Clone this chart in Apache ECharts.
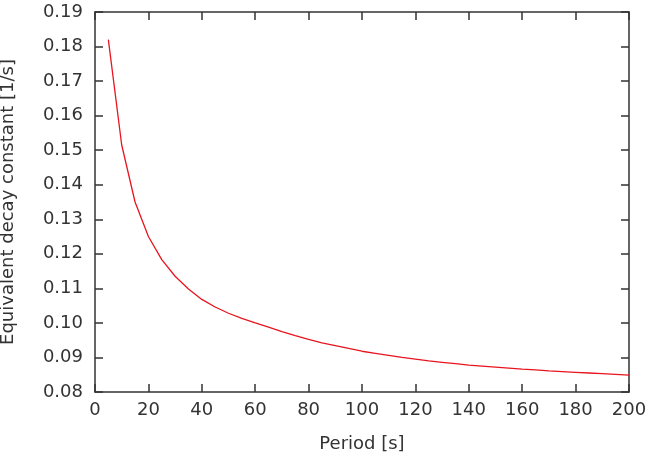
<!DOCTYPE html>
<html>
<head>
<meta charset="utf-8">
<script src="https://cdn.jsdelivr.net/npm/echarts@6/dist/echarts.min.js"></script>
<style>
  html, body { margin: 0; padding: 0; background: #fff; }
  #chart { width: 645px; height: 475px; }
</style>
</head>
<body>
<div id="chart"></div>
<script>
// period [s]
const periods = [5, 10, 15, 20, 25, 30, 35, 40, 45, 50, 55, 60, 65, 70, 75, 80, 85, 90, 95, 100,
    105, 110, 115, 120, 125, 130, 135, 140, 145, 150, 155, 160, 165, 170, 175, 180, 185, 190, 195, 200]
// equivalent decay constant [1/s]
const decay = [0.1820, 0.1515, 0.1350, 0.1250, 0.1183, 0.1135, 0.1098, 0.1068, 0.1046, 0.1028,
    0.1013, 0.1000, 0.0988, 0.0975, 0.0963, 0.0952, 0.0942, 0.0934, 0.0926, 0.0918,
    0.0912, 0.0906, 0.0900, 0.0895, 0.0890, 0.0886, 0.0882, 0.0878, 0.0875, 0.0872,
    0.0869, 0.0866, 0.0864, 0.0861, 0.0859, 0.0857, 0.0855, 0.0853, 0.0851, 0.0849]

const font = 'DejaVu Sans'
const axisColor = '#333'
const fontSize = 18

let chart = echarts.init(document.getElementById('chart'))

const baseAxisLine = { show: true, onZero: false, lineStyle: { color: axisColor, width: 1.5 } }
const baseTick = { show: true, inside: true, length: 8, lineStyle: { color: axisColor, width: 1.5 } }

chart.setOption({
    animation: false,
    grid: {
        left: 95,
        right: 16,
        top: 12,
        bottom: 83,
        outerBoundsMode: 'none'
    },
    xAxis: [
        {
            type: 'value',
            min: 0,
            max: 200,
            interval: 20,
            name: 'Period [s]',
            nameLocation: 'middle',
            nameGap: 43,
            nameTextStyle: { fontFamily: font, fontSize: fontSize, color: axisColor },
            axisLine: baseAxisLine,
            axisTick: baseTick,
            axisLabel: { fontFamily: font, fontSize: fontSize, color: axisColor, margin: 9 },
            splitLine: { show: false }
        },
        {
            type: 'value',
            position: 'top',
            min: 0,
            max: 200,
            interval: 20,
            axisLine: baseAxisLine,
            axisTick: baseTick,
            axisLabel: { show: false },
            splitLine: { show: false }
        }
    ],
    yAxis: [
        {
            type: 'value',
            min: 0.08,
            max: 0.19,
            interval: 0.01,
            name: 'Equivalent decay constant [1/s]',
            nameLocation: 'middle',
            nameGap: 78,
            nameTextStyle: { fontFamily: font, fontSize: fontSize, color: axisColor },
            axisLine: baseAxisLine,
            axisTick: baseTick,
            axisLabel: {
                fontFamily: font,
                fontSize: fontSize,
                color: axisColor,
                margin: 12,
                formatter: v => v.toFixed(2)
            },
            splitLine: { show: false }
        },
        {
            type: 'value',
            position: 'right',
            min: 0.08,
            max: 0.19,
            interval: 0.01,
            axisLine: baseAxisLine,
            axisTick: baseTick,
            axisLabel: { show: false },
            splitLine: { show: false }
        }
    ],
    series: [
        {
            type: 'line',
            data: periods.map((p, i) => [p, decay[i]]),
            showSymbol: false,
            lineStyle: { color: '#e8141e', width: 1.3 },
            itemStyle: { color: '#e8141e' }
        }
    ]
})
</script>
</body>
</html>
